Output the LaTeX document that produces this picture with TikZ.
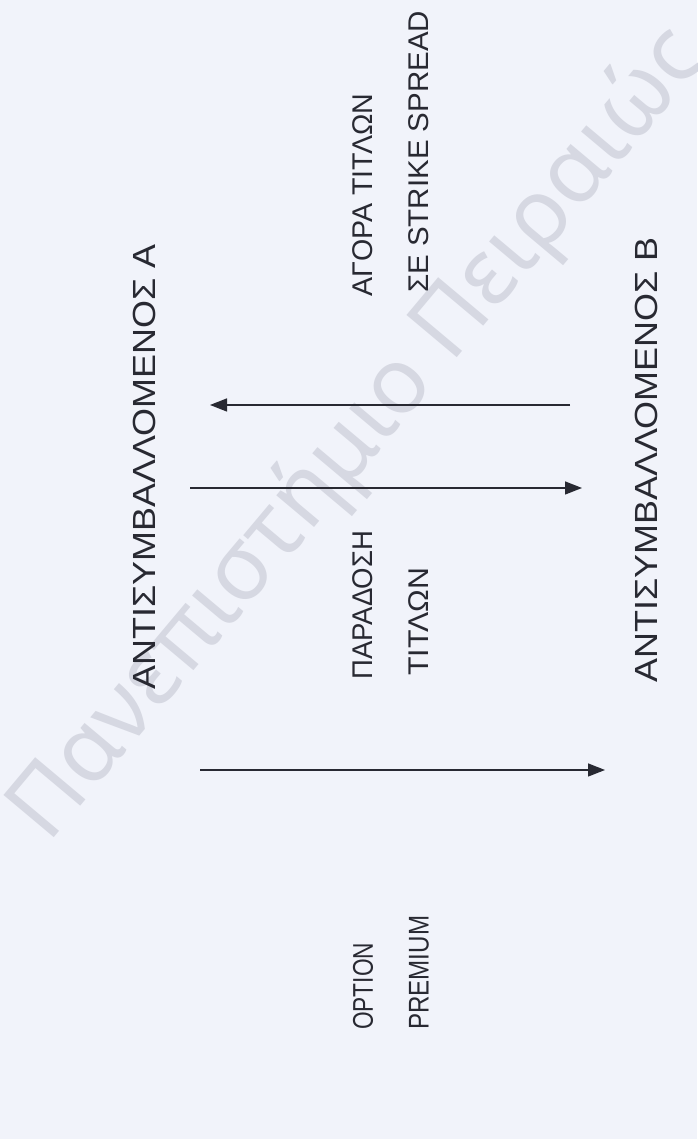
\documentclass[tikz,border=0pt]{standalone}
\usepackage{fontspec}
\usepackage{graphicx}
\setmainfont{Liberation Sans}
\newfontfamily\wmfont{Noto Sans}
\usetikzlibrary{arrows.meta}
\definecolor{bg}{RGB}{241,243,250}
\definecolor{ink}{RGB}{40,41,50}
\definecolor{wmgray}{RGB}{214,216,226}
\newcommand\fitw[2]{\resizebox{#1}{\height}{#2}}
\begin{document}
\begin{tikzpicture}[x=1pt,y=1pt,
  lbl/.style={rotate=90,inner sep=0pt,font=\fontsize{28.5}{34}\selectfont,text=ink},
  party/.style={lbl,font=\fontsize{32}{38}\selectfont},
  arr/.style={draw=ink,line width=1.4pt,-{Triangle[length=17pt,width=13pt]}},
  watermark/.style={rotate=50,inner sep=0pt,text=wmgray,font=\wmfont\fontsize{92}{100}\selectfont}]
\fill[bg] (0,0) rectangle (697,1139);
\useasboundingbox (0,0) rectangle (697,1139);
% watermark
\node[watermark] (wm) at (360,704) {Πανεπιστήμιο Πειραιώς};
% labels
\node[party] (cpA) at (144,672) {\fitw{445pt}{ΑΝΤΙΣΥΜΒΑΛΛΟΜΕΝΟΣ Α}};
\node[party] (cpB) at (646,679) {\fitw{445pt}{ΑΝΤΙΣΥΜΒΑΛΛΟΜΕΝΟΣ Β}};
\node[lbl,anchor=west] (buy1) at (363,842) {\fitw{203pt}{ΑΓΟΡΑ ΤΙΤΛΩΝ}};
\node[lbl,anchor=west] (buy2) at (419,846) {\fitw{282pt}{ΣΕ STRIKE SPREAD}};
\node[lbl,anchor=west] (del1) at (363,459) {\fitw{149pt}{ΠΑΡΑΔΟΣΗ}};
\node[lbl,anchor=west] (del2) at (419,463) {\fitw{108pt}{ΤΙΤΛΩΝ}};
\node[lbl,anchor=west] (opt1) at (363,109) {\fitw{87pt}{OPTION}};
\node[lbl,anchor=west] (opt2) at (419,109) {\fitw{114pt}{PREMIUM}};
% arrow end points
\coordinate (a1s) at (570,734);
\coordinate (a1e) at (210,734);
\coordinate (a2s) at (190,651);
\coordinate (a2e) at (582,651);
\coordinate (a3s) at (200,369);
\coordinate (a3e) at (605,369);
\draw[arr] (a1s) -- (a1e);
\draw[arr] (a2s) -- (a2e);
\draw[arr] (a3s) -- (a3e);
\end{tikzpicture}
\end{document}
